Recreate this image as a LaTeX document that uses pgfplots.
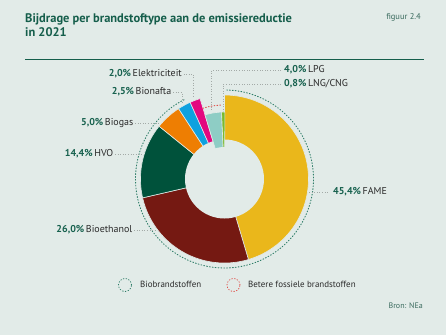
\documentclass[border=0pt]{standalone}
\usepackage{pgfplots}
\pgfplotsset{compat=1.18}
\usepackage{fontspec}
\setmainfont{PT Sans}
\definecolor{bg}{HTML}{E2EBE8}
\definecolor{titlegreen}{HTML}{155E4B}
\definecolor{numgreen}{HTML}{17614E}
\definecolor{txt}{HTML}{2B2B2B}
\definecolor{fame}{HTML}{EAB71B}
\definecolor{ethanol}{HTML}{751912}
\definecolor{hvo}{HTML}{00523B}
\definecolor{biogas}{HTML}{EE7E02}
\definecolor{nafta}{HTML}{0EA1DF}
\definecolor{elek}{HTML}{E3087F}
\definecolor{lpg}{HTML}{8ECDC5}
\definecolor{lng}{HTML}{7BBA2C}
\definecolor{dotgreen}{HTML}{2E7D68}
\definecolor{dotred}{HTML}{E0504B}
\definecolor{leader}{HTML}{A3AAA7}
\definecolor{figc}{HTML}{3A6B5E}
% #1 cumulative share before slice, #2 share (%), #3 outer radius, #4 colour
\newcommand\slice[4]{%
  \addplot[fill=#4, draw=bg, line width=0.6pt, domain=90-3.6*(#1+#2):90-3.6*(#1), samples=60]
    ({224.5+#3*cos(x)},{179-#3*sin(x)}) -- (axis cs:224.5,179) -- cycle;}
\newcommand\lab[2]{{\bfseries\color{numgreen}#1}\,{\color{txt}#2}}
\begin{document}
\begin{tikzpicture}
\fill[bg] (0,0) rectangle (446bp,335bp);
\begin{axis}[x=1bp, y=1bp, xmin=0, xmax=446, ymin=0, ymax=335, y dir=reverse,
  hide axis, clip=false, at={(0,0)}, anchor=south west]
% shares (%): FAME 45.4, Bioethanol 26.0, HVO 14.4, Biogas 5.0, Bionafta 2.5, Elektriciteit 2.0, LPG 4.0, LNG/CNG 0.8
\slice{0}{45.4}{84}{fame}
\slice{45.4}{26.0}{84}{ethanol}
\slice{71.4}{14.4}{84}{hvo}
\slice{85.8}{5.0}{84}{biogas}
\slice{90.8}{2.5}{84}{nafta}
\slice{93.3}{2.0}{84}{elek}
\fill[bg] (axis cs:224.5,179) circle[radius=39.5bp];
\slice{95.3}{4.0}{67}{lpg}
\slice{99.3}{0.8}{67}{lng}
\fill[bg] (axis cs:224.5,179) circle[radius=32bp];
% group outlines
\addplot[draw=dotgreen, dotted, line width=0.9pt, line cap=round, domain=-243:88.5, samples=200] ({224.5+89*cos(x)},{179-89*sin(x)});
\addplot[draw=dotred, dotted, line width=0.9pt, line cap=round, domain=93:108, samples=30] ({224.5+74*cos(x)},{179-74*sin(x)});
% leaders
\begin{scope}[leader, dotted, line width=0.6pt]
\draw (axis cs:183.5,74) -- (axis cs:193,74) -- (axis cs:193,97);
\draw (axis cs:173,92.5) -- (axis cs:182,92.5) -- (axis cs:182,103);
\draw (axis cs:135,123) -- (axis cs:160,123);
\draw (axis cs:115,154) -- (axis cs:142,154);
\draw (axis cs:134,230) -- (axis cs:156,230);
\draw (axis cs:309,192) -- (axis cs:329,192);
\draw (axis cs:281,70) -- (axis cs:211.7,70) -- (axis cs:211.7,112);
\draw (axis cs:281,84) -- (axis cs:223,84) -- (axis cs:223,111.5);
\end{scope}
% labels
\begin{scope}[font=\fontsize{10}{12}\selectfont, inner sep=0pt]
\node[anchor=mid east] at (axis cs:182,74) {\lab{2,0\%}{Elektriciteit}};
\node[anchor=mid east] at (axis cs:171.5,92.5) {\lab{2,5\%}{Bionafta}};
\node[anchor=mid east] at (axis cs:133.5,123) {\lab{5,0\%}{Biogas}};
\node[anchor=mid east] at (axis cs:113.5,154) {\lab{14,4\%}{HVO}};
\node[anchor=mid east] at (axis cs:132.5,230) {\lab{26,0\%}{Bioethanol}};
\node[anchor=mid west] at (axis cs:333,192) {\lab{45,4\%}{FAME}};
\node[anchor=mid west] at (axis cs:284,70) {\lab{4,0\%}{LPG}};
\node[anchor=mid west] at (axis cs:284,84) {\lab{0,8\%}{LNG/CNG}};
\end{scope}
% title
\node[anchor=base west, inner sep=0pt, font=\fontsize{12.5}{14}\selectfont\bfseries, text=titlegreen] at (axis cs:25,22.7) {Bijdrage per brandstoftype aan de emissiereductie};
\node[anchor=base west, inner sep=0pt, font=\fontsize{12.5}{14}\selectfont\bfseries, text=titlegreen] at (axis cs:25,36.5) {in 2021};
\node[anchor=base east, inner sep=0pt, font=\fontsize{8.5}{10}\selectfont, text=figc] at (axis cs:421,19) {figuur 2.4};
\draw[titlegreen, line width=1bp] (axis cs:25,59) -- (axis cs:424,59);
% legend
\draw[dotgreen, dotted, line width=0.8pt, line cap=round] (axis cs:125,285) circle[radius=6.5bp];
\draw[dotred, dotted, line width=0.8pt, line cap=round] (axis cs:233.5,285) circle[radius=6.5bp];
\node[anchor=mid west, inner sep=0pt, font=\fontsize{9}{11}\selectfont, text=txt] at (axis cs:140,285) {Biobrandstoffen};
\node[anchor=mid west, inner sep=0pt, font=\fontsize{9}{11}\selectfont, text=txt] at (axis cs:248,285) {Betere fossiele brandstoffen};
\node[anchor=mid east, inner sep=0pt, font=\fontsize{8}{10}\selectfont, text=figc] at (axis cs:423,306) {Bron: NEa};
\end{axis}
\end{tikzpicture}
\end{document}
